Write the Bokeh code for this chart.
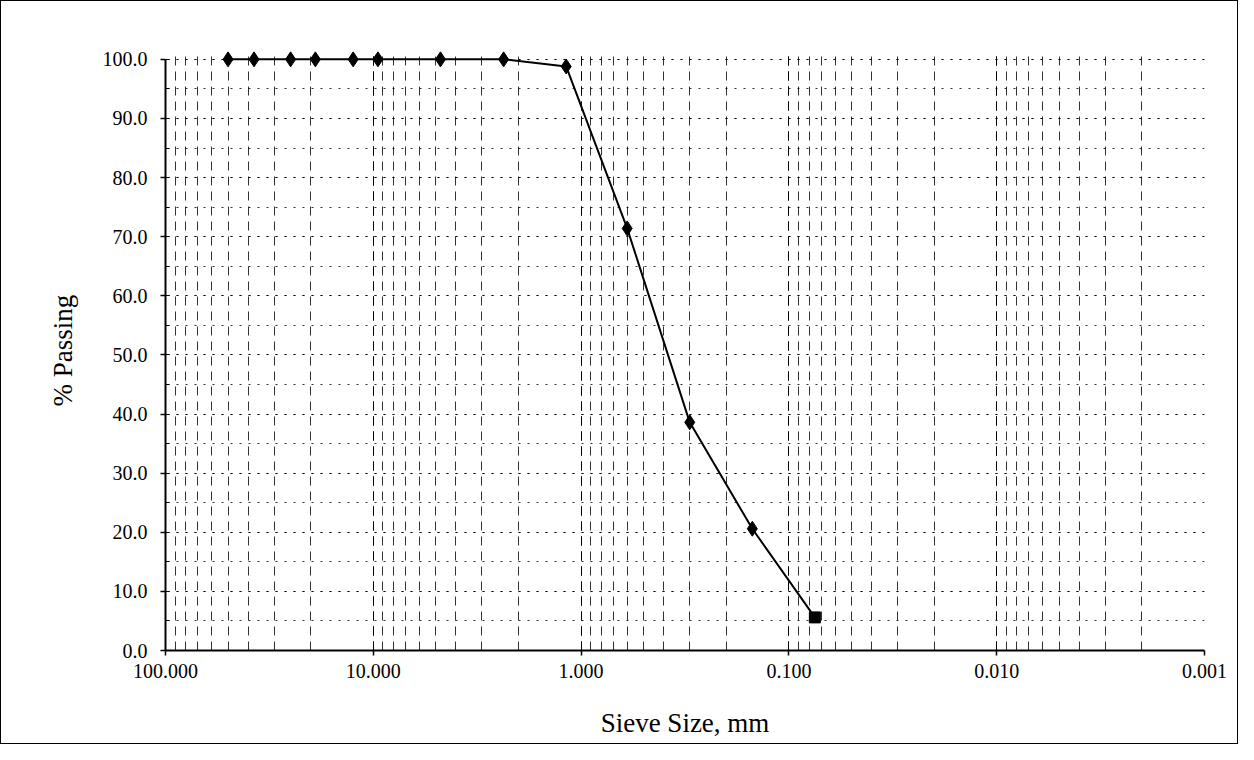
from bokeh.plotting import figure
from bokeh.models import Range1d, LogTicker, FixedTicker, CustomJSTickFormatter, PrintfTickFormatter
from bokeh.embed import file_html
from bokeh.resources import INLINE

# Sieve sizes (mm) and percent passing
sieve_mm = [50.0, 37.5, 25.0, 19.0, 12.5, 9.5, 4.75, 2.36, 1.18, 0.6, 0.3, 0.15, 0.075]
passing = [100.0, 100.0, 100.0, 100.0, 100.0, 100.0, 100.0, 100.0, 98.8, 71.4, 38.6, 20.6, 5.6]
y_ticks = [0, 10, 20, 30, 40, 50, 60, 70, 80, 90, 100]
x_ticks = [100, 10, 1, 0.1, 0.01, 0.001]

FONT = "Liberation Serif"

p = figure(width=1238, height=744, x_axis_type="log",
           x_range=Range1d(100, 0.001), y_range=Range1d(0, 101.5),
           output_backend="svg", toolbar_location=None,
           min_border_left=164, min_border_right=35,
           min_border_top=49, min_border_bottom=95)
p.styles = {"border": "1px solid black", "box-sizing": "border-box"}
p.outline_line_color = None
p.background_fill_color = "white"

# grids
p.xaxis.ticker = LogTicker(desired_num_ticks=6, num_minor_ticks=10)
p.xgrid.grid_line_color = "black"
p.xgrid.grid_line_dash = "9 6"
p.xgrid.grid_line_width = 1
p.xgrid.grid_line_alpha = 0.8
p.xgrid.minor_grid_line_color = "black"
p.xgrid.minor_grid_line_dash = "9 6"
p.xgrid.minor_grid_line_alpha = 0.8
p.xgrid.bounds = (100, 0.001)

p.yaxis.ticker = FixedTicker(ticks=y_ticks, minor_ticks=list(range(0, 101, 5)))
p.ygrid.grid_line_color = "black"
p.ygrid.grid_line_dash = "2 7"
p.ygrid.grid_line_alpha = 0.8
p.ygrid.minor_grid_line_color = "black"
p.ygrid.minor_grid_line_dash = "2 7"
p.ygrid.minor_grid_line_alpha = 0.8

# axes
p.xaxis.formatter = CustomJSTickFormatter(code="return tick.toFixed(3);")
p.yaxis.formatter = PrintfTickFormatter(format="%.1f")
for ax in (p.xaxis[0], p.yaxis[0]):
    ax.axis_line_color = "black"
    ax.axis_line_width = 2
    ax.major_tick_line_color = "black"
    ax.major_tick_line_width = 1.5
    ax.major_label_text_font = FONT
    ax.major_label_text_font_size = "20px"
    ax.major_label_text_color = "black"
    ax.axis_label_text_font = FONT
    ax.axis_label_text_font_style = "normal"
    ax.axis_label_text_font_size = "27px"
    ax.axis_label_text_color = "black"

p.yaxis.bounds = (0, 100)

p.xaxis.major_tick_in = 0
p.xaxis.major_tick_out = 5
p.xaxis.minor_tick_line_color = None
p.xaxis.major_label_standoff = 8
p.xaxis.axis_label = "Sieve Size, mm"
p.xaxis.axis_label_standoff = 27

p.yaxis.major_tick_in = 0
p.yaxis.major_tick_out = 5
p.yaxis.minor_tick_in = 4
p.yaxis.minor_tick_out = 0
p.yaxis.minor_tick_line_color = "black"
p.yaxis.major_label_standoff = 13
p.yaxis.axis_label = "% Passing"
p.yaxis.axis_label_standoff = 22

# data
p.line(sieve_mm, passing, line_color="black", line_width=2)
p.scatter(sieve_mm[:-1], passing[:-1], marker="diamond", size=15,
          fill_color="black", line_color="black")
p.scatter(sieve_mm[-1:], passing[-1:], marker="square", size=11,
          fill_color="black", line_color="black")

open("out.html", "w").write(file_html(p, INLINE))
